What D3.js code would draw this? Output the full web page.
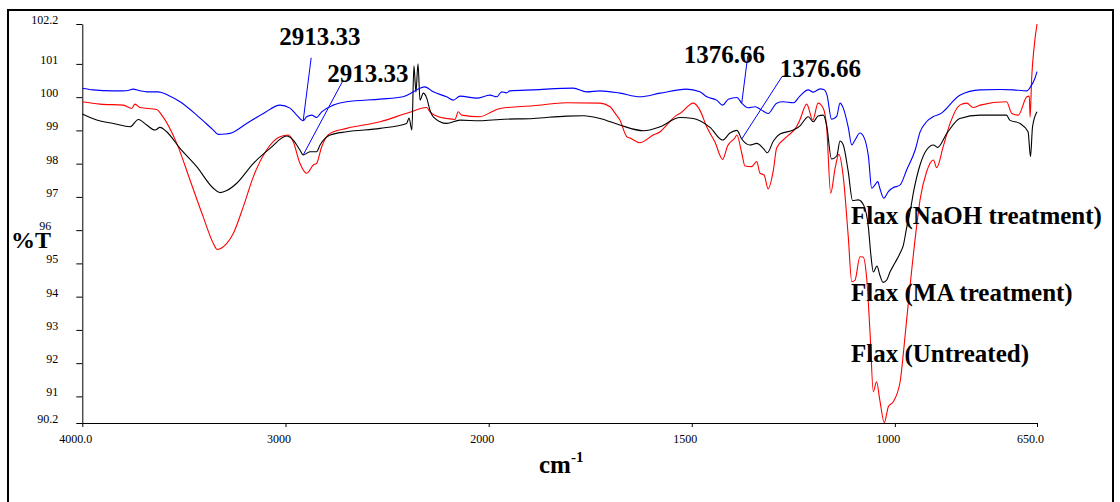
<!DOCTYPE html>
<html>
<head>
<meta charset="utf-8">
<script src="https://cdn.jsdelivr.net/npm/d3@7"></script>
<style>
  html, body { margin: 0; padding: 0; background: #fff; }
  svg { display: block; font-family: "Liberation Serif", "Times New Roman", serif; }
</style>
</head>
<body>
<svg id="chart" width="1120" height="502"></svg>
<script>
// FTIR spectra of flax fibre: [wavenumber (cm-1), transmittance (%T)]
const naohSpectrum = [
  [4000,100.27],[3947,100.22],[3849,100.19],[3800,100.19],[3775,100.20],[3750,100.24],[3716,100.19],[3682,100.16],[3627,100.16],[3578,100.06],
  [3519,99.86],[3437,99.46],[3355,99.01],[3331,98.88],[3298,98.89],[3273,98.91],[3191,99.21],[3109,99.51],[3027,99.76],[2978,99.67],
  [2945,99.46],[2913,99.29],[2896,99.41],[2871,99.46],[2847,99.39],[2822,99.56],[2765,99.76],[2699,99.86],[2535,99.94],[2422,100.01],
  [2371,100.16],[2338,100.27],[2314,100.31],[2273,100.16],[2207,100.01],[2174,99.91],[2141,100.03],[2059,99.97],[1997,100.06],[1980,100.01],
  [1968,100.16],[1956,100.13],[1948,100.19],[1890,100.22],[1792,100.27],[1759,100.16],[1726,100.19],[1677,100.12],[1628,100.01],[1578,100.12],
  [1513,100.24],[1480,100.16],[1463,100.01],[1439,99.91],[1424,99.76],[1410,99.94],[1389,99.99],[1377,99.82],[1361,99.68],[1344,99.71],
  [1328,99.61],[1312,99.51],[1291,99.82],[1275,99.86],[1250,99.83],[1234,100.03],[1213,100.22],[1201,100.15],[1184,100.25],[1175,100.23],
  [1167,100.06],[1156,99.34],[1150,99.36],[1143,99.43],[1135,99.82],[1127,99.67],[1115,99.11],[1106,98.56],[1098,98.71],[1086,98.92],
  [1076,98.79],[1065,98.21],[1057,97.26],[1049,97.36],[1042,97.46],[1037,97.26],[1027,96.96],[1016,97.16],[1005,97.27],[987,97.36],
  [971,97.81],[950,98.41],[938,98.95],[922,99.26],[905,99.42],[889,99.49],[840,100.06],[790,100.22],[741,100.23],[708,100.22],
  [675,100.19],[666,100.31],[655,100.57],[650,100.77]
];

const maSpectrum = [
  [4000,99.49],[3929,99.31],[3847,99.21],[3765,99.11],[3724,99.33],[3683,99.16],[3642,99.01],[3618,99.09],[3585,98.96],[3519,98.46],
  [3437,97.91],[3355,97.26],[3322,97.13],[3289,97.19],[3240,97.41],[3158,98.01],[3076,98.46],[2994,98.83],[2962,98.71],[2929,98.41],
  [2913,98.26],[2880,98.36],[2847,98.36],[2830,98.56],[2781,98.86],[2699,98.96],[2535,99.06],[2404,99.21],[2392,99.37],[2378,99.01],
  [2368,100.94],[2358,100.15],[2348,101.00],[2338,99.91],[2322,100.12],[2305,99.97],[2289,99.61],[2273,99.41],[2207,99.21],[2141,99.31],
  [2043,99.29],[1972,99.33],[1890,99.36],[1808,99.43],[1767,99.44],[1726,99.36],[1677,99.16],[1619,98.99],[1578,99.11],[1529,99.39],
  [1496,99.36],[1455,99.09],[1424,98.71],[1406,98.92],[1389,99.00],[1377,98.74],[1357,98.56],[1340,98.61],[1324,98.46],[1314,98.33],
  [1299,98.68],[1283,98.89],[1250,99.01],[1234,99.13],[1213,99.41],[1201,99.26],[1189,99.43],[1176,99.46],[1168,99.16],[1156,98.14],
  [1143,98.23],[1135,98.68],[1127,98.56],[1115,97.78],[1104,96.89],[1090,96.91],[1076,96.73],[1065,96.07],[1059,95.25],[1053,94.74],
  [1044,94.92],[1037,94.65],[1029,94.43],[1020,94.50],[1012,94.74],[1000,95.01],[987,95.31],[979,95.55],[971,96.07],[963,96.52],
  [953,97.21],[938,97.96],[922,98.41],[905,98.56],[895,98.49],[872,98.91],[840,99.36],[790,99.46],[725,99.46],[717,99.31],
  [692,99.21],[672,98.96],[666,98.21],[661,99.11],[650,99.56]
];

const untreatedSpectrum = [
  [4000,99.86],[3913,99.79],[3798,99.76],[3757,99.66],[3741,99.79],[3716,99.69],[3634,99.63],[3609,99.46],[3535,98.61],[3470,97.51],
  [3405,96.40],[3355,95.60],[3336,95.42],[3289,95.60],[3257,95.90],[3208,96.70],[3158,97.61],[3093,98.41],[3027,98.81],[2986,98.86],
  [2962,98.66],[2929,98.01],[2896,97.71],[2863,97.96],[2847,98.01],[2822,98.51],[2781,98.91],[2699,99.06],[2535,99.26],[2396,99.53],
  [2305,99.69],[2289,99.56],[2248,99.41],[2207,99.36],[2166,99.33],[2150,99.56],[2133,99.46],[2043,99.41],[1997,99.53],[1972,99.66],
  [1890,99.74],[1808,99.83],[1726,99.82],[1701,99.71],[1689,99.52],[1677,99.31],[1660,98.81],[1652,98.77],[1628,98.63],[1595,98.86],
  [1578,98.96],[1562,99.16],[1537,99.46],[1529,99.51],[1496,99.82],[1480,99.61],[1463,99.10],[1443,98.65],[1424,98.13],[1412,98.53],
  [1394,98.77],[1389,98.86],[1377,98.32],[1369,97.93],[1353,97.91],[1340,98.06],[1332,97.71],[1322,97.66],[1312,97.24],[1299,97.81],
  [1291,98.47],[1266,98.81],[1242,99.11],[1234,99.31],[1217,99.79],[1202,99.31],[1189,99.82],[1176,99.66],[1168,99.11],[1158,97.11],
  [1147,97.87],[1138,98.28],[1127,97.61],[1115,95.85],[1106,94.45],[1098,94.50],[1086,95.20],[1078,95.19],[1069,94.50],[1061,92.90],
  [1053,91.14],[1045,91.44],[1037,90.89],[1026,90.21],[1016,90.69],[1004,90.84],[987,91.44],[979,92.30],[971,93.30],[959,94.74],
  [946,96.16],[938,96.91],[922,97.75],[905,98.11],[897,97.88],[881,98.51],[864,99.21],[840,99.76],[823,99.82],[807,99.69],
  [790,99.76],[725,99.86],[712,99.51],[696,99.46],[675,100.01],[669,100.03],[667,99.40],[663,100.60],[657,101.52],[650,102.2]
];

const seriesNames = ["Flax (NaOH treatment)", "Flax (MA treatment)", "Flax (Untreated)"];
const seriesColors = ["#0000ff", "#000000", "#ff0000"];

const wavenumberTicks = [4000, 3000, 2000, 1500, 1000, 650];
const wavenumberTickLabels = ["4000.0", "3000", "2000", "1500", "1000", "650.0"];
const transmittanceTicks = [90.2, 91, 92, 93, 94, 95, 96, 97, 98, 99, 100, 101, 102.2];
const transmittanceTickLabels = ["90.2", "91", "92", "93", "94", "95", "96", "97", "98", "99", "100", "101", "102.2"];

// Peak annotations: label text, wavenumber and the %T of the curve it points to
const peakLabels = ["2913.33", "2913.33", "1376.66", "1376.66"];
const peakWavenumbers = [2913, 2913, 1377, 1377];
const peakTransmittance = [99.29, 98.26, 99.82, 98.74];

// ---------------------------------------------------------------------------
const serif = "'Liberation Serif', 'Times New Roman', serif";
const svg = d3.select("#chart");

// outer frame
svg.append("rect")
  .attr("x", 8).attr("y", 10)
  .attr("width", 1105).attr("height", 505)
  .attr("fill", "none").attr("stroke", "#000").attr("stroke-width", 2);

// abscissa changes scale at 2000 cm-1 (twice as wide below 2000)
const x = d3.scaleLinear()
  .domain([4000, 2000, 650])
  .range([82.3, 488.7, 1037]);

const y = d3.scaleLinear()
  .domain([90.2, 102.2])
  .range([423, 24]);

// y axis
const yAxis = d3.axisLeft(y)
  .tickValues(transmittanceTicks)
  .tickFormat((d, i) => transmittanceTickLabels[i])
  .tickSize(6)
  .tickSizeOuter(0)
  .tickPadding(18);

const gy = svg.append("g")
  .attr("transform", `translate(${x(4000)},0)`)
  .call(yAxis)
  .attr("font-family", serif)
  .attr("font-size", 12);
gy.selectAll("text")
  .attr("dy", "-0.05em")
  // the 96 label sits tucked beside the %T title
  .attr("dx", d => (d === 96 ? -7 : 0));

// x axis
const xAxis = d3.axisBottom(x)
  .tickValues(wavenumberTicks)
  .tickFormat((d, i) => wavenumberTickLabels[i])
  .tickSize(4)
  .tickSizeOuter(0)
  .tickPadding(7.5);

const gx = svg.append("g")
  .attr("transform", `translate(0,${y(90.2)})`)
  .call(xAxis)
  .attr("font-family", serif)
  .attr("font-size", 12);
gx.selectAll("text").attr("dx", -7);

svg.selectAll(".domain, .tick line").attr("stroke", "#000").attr("stroke-width", 1);

// spectra
const line = d3.line()
  .x(d => x(d[0]))
  .y(d => y(d[1]))
  .curve(d3.curveMonotoneX);

const spectra = [untreatedSpectrum, maSpectrum, naohSpectrum];
const spectraColors = [seriesColors[2], seriesColors[1], seriesColors[0]];

svg.append("g")
  .selectAll("path")
  .data(spectra)
  .join("path")
  .attr("d", line)
  .attr("fill", "none")
  .attr("stroke", (d, i) => spectraColors[i])
  .attr("stroke-width", 1.1)
  .attr("stroke-linejoin", "round");

// peak leader lines and labels (offsets from the marked point, in px)
const leaderTop = [[8, -63], [39, -73], [6, -47], [40, -62]];
const labelPos = [[-24, -76], [24, -73], [-58, -40], [38, -62]];

const peaks = svg.append("g");
peakLabels.forEach((t, i) => {
  const px = x(peakWavenumbers[i]);
  const py = y(peakTransmittance[i]);
  peaks.append("line")
    .attr("x1", px).attr("y1", py)
    .attr("x2", px + leaderTop[i][0]).attr("y2", py + leaderTop[i][1])
    .attr("stroke", "#0000ff").attr("stroke-width", 1);
  peaks.append("text")
    .attr("x", px + labelPos[i][0]).attr("y", py + labelPos[i][1])
    .attr("font-size", 25).attr("font-weight", "bold")
    .attr("fill", "#000")
    .text(t);
});

// series labels
const seriesLabelY = [224, 301, 362];
svg.append("g")
  .selectAll("text")
  .data(seriesNames)
  .join("text")
  .attr("x", 851)
  .attr("y", (d, i) => seriesLabelY[i])
  .attr("font-size", 25)
  .attr("font-weight", "bold")
  .attr("fill", "#000")
  .text(d => d);

// axis titles
svg.append("text")
  .attr("x", 11).attr("y", 248)
  .attr("font-size", 24).attr("font-weight", "bold")
  .text("%T");

const xTitle = svg.append("text")
  .attr("x", 539).attr("y", 473)
  .attr("font-size", 25).attr("font-weight", "bold");
xTitle.append("tspan").text("cm");
xTitle.append("tspan").attr("font-size", 15).attr("dy", -11).text("-1");
</script>
</body>
</html>
